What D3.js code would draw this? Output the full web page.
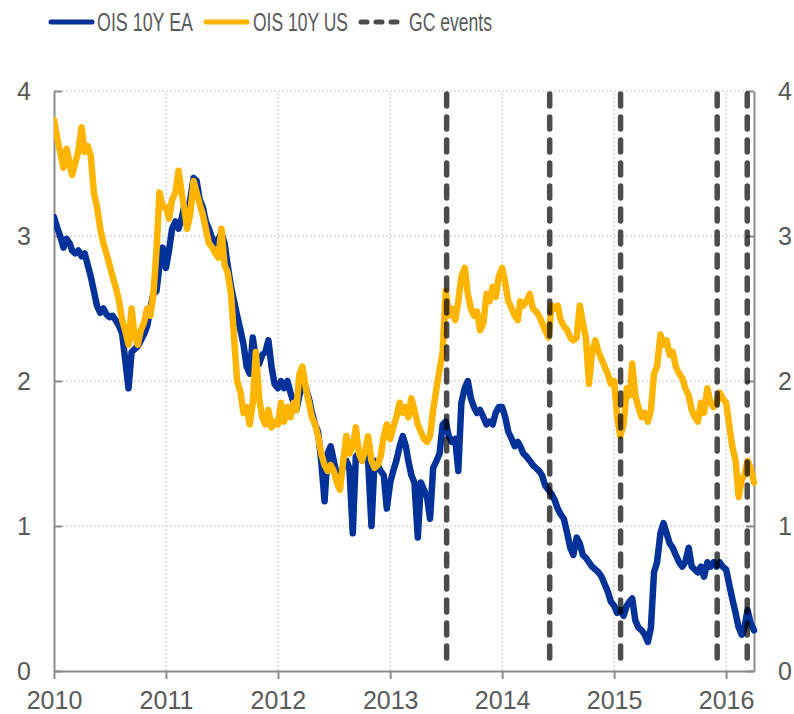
<!DOCTYPE html>
<html>
<head>
<meta charset="utf-8">
<script src="https://cdn.jsdelivr.net/npm/d3@7"></script>
<style>
    body { margin: 0; background: #fff; }
    svg { display: block; font-family: Arial, "Liberation Sans", sans-serif; }
</style>
</head>
<body>
<svg id="chart" width="794" height="714"></svg>
<script>
const width = 794;
const height = 714;

// readings are taken on the 1st, 11th and 21st of every month
const obsDays = [1, 11, 21];
const firstDay = "2010-01-01";
const lastDay = "2016-04-01";

// one row per year (2016 stops at 1 April)
const oisEA = [
    3.13, 3.06, 3.0, 2.92, 2.98, 2.95, 2.9, 2.88, 2.9, 2.86, 2.88, 2.8, 2.72, 2.62, 2.52, 2.47, 2.5, 2.46, 2.44, 2.45, 2.42, 2.38, 2.33, 2.15, 1.95, 2.2, 2.22, 2.24, 2.28, 2.32, 2.38, 2.5, 2.6, 2.62, 2.8, 2.92,
    2.78, 2.9, 3.05, 3.1, 3.05, 3.12, 3.2, 3.15, 3.25, 3.4, 3.38, 3.25, 3.2, 3.1, 3.05, 2.98, 2.95, 2.98, 3.02, 2.95, 2.8, 2.65, 2.55, 2.45, 2.35, 2.25, 2.1, 2.05, 2.3, 2.15, 2.12, 2.18, 2.2, 2.28, 2.1, 1.98,
    1.95, 2.0, 1.95, 2.0, 1.92, 1.85, 1.8, 1.9, 1.98, 1.95, 1.88, 1.78, 1.7, 1.65, 1.45, 1.17, 1.5, 1.55, 1.45, 1.35, 1.32, 1.42, 1.45, 1.4, 0.95, 1.48, 1.5, 1.45, 1.5, 1.45, 1.0, 1.45, 1.42, 1.38, 1.35, 1.12,
    1.3, 1.38, 1.45, 1.55, 1.62, 1.55, 1.45, 1.35, 1.3, 0.92, 1.3, 1.25, 1.2, 1.05, 1.4, 1.45, 1.5, 1.7, 1.72, 1.62, 1.58, 1.6, 1.38, 1.85, 1.95, 2.0, 1.88, 1.82, 1.78, 1.8, 1.75, 1.7, 1.72, 1.7, 1.78, 1.82,
    1.82, 1.75, 1.65, 1.6, 1.55, 1.58, 1.55, 1.5, 1.48, 1.45, 1.42, 1.4, 1.38, 1.35, 1.28, 1.25, 1.22, 1.18, 1.12, 1.08, 1.05, 0.95, 0.85, 0.8, 0.92, 0.88, 0.8, 0.78, 0.75, 0.72, 0.7, 0.68, 0.65, 0.6, 0.55, 0.48,
    0.45, 0.4, 0.42, 0.38, 0.45, 0.48, 0.5, 0.35, 0.3, 0.28, 0.25, 0.2, 0.3, 0.68, 0.75, 0.95, 1.02, 0.95, 0.88, 0.85, 0.8, 0.75, 0.72, 0.75, 0.85, 0.72, 0.7, 0.68, 0.72, 0.65, 0.75, 0.72, 0.75, 0.72, 0.75, 0.72,
    0.7, 0.6, 0.5, 0.4, 0.3, 0.25, 0.3, 0.42, 0.33, 0.28
];

const oisUS = [
    3.8, 3.68, 3.58, 3.47, 3.6, 3.5, 3.42, 3.5, 3.58, 3.75, 3.58, 3.62, 3.55, 3.3, 3.2, 3.05, 2.95, 2.88, 2.8, 2.72, 2.65, 2.55, 2.42, 2.35, 2.25, 2.5, 2.3, 2.25, 2.35, 2.4, 2.5, 2.45, 2.6, 2.9, 3.3, 3.2,
    3.2, 3.12, 3.25, 3.3, 3.45, 3.3, 3.2, 3.05, 3.15, 3.38, 3.3, 3.22, 3.15, 3.05, 2.95, 2.92, 2.88, 2.85, 3.05, 2.8, 2.75, 2.6, 2.3, 2.0, 1.92, 1.78, 1.82, 1.7, 1.85, 2.2, 1.88, 1.75, 1.7, 1.8, 1.68, 1.72,
    1.7, 1.85, 1.72, 1.82, 1.75, 1.85, 1.8, 2.05, 2.1, 1.95, 1.85, 1.75, 1.7, 1.62, 1.5, 1.42, 1.38, 1.42, 1.38, 1.3, 1.25, 1.45, 1.62, 1.5, 1.55, 1.68, 1.5, 1.45, 1.52, 1.62, 1.45, 1.4, 1.42, 1.48, 1.62, 1.7,
    1.6, 1.68, 1.75, 1.85, 1.78, 1.82, 1.75, 1.88, 1.8, 1.7, 1.65, 1.6, 1.58, 1.62, 1.8, 1.95, 2.08, 2.2, 2.62, 2.45, 2.5, 2.42, 2.55, 2.72, 2.78, 2.6, 2.5, 2.45, 2.48, 2.35, 2.4, 2.6, 2.55, 2.65, 2.58, 2.72,
    2.78, 2.68, 2.55, 2.5, 2.45, 2.42, 2.55, 2.52, 2.55, 2.6, 2.5, 2.48, 2.45, 2.4, 2.35, 2.3, 2.52, 2.5, 2.52, 2.42, 2.38, 2.35, 2.3, 2.28, 2.3, 2.52, 2.4, 2.3, 1.98, 2.2, 2.28, 2.2, 2.15, 2.1, 2.05, 1.98,
    2.0, 1.75, 1.62, 1.7, 1.95, 1.9, 2.12, 1.9, 1.82, 1.75, 1.78, 1.72, 1.8, 2.05, 2.1, 2.32, 2.25, 2.28, 2.18, 2.2, 2.1, 2.05, 2.02, 1.95, 1.9, 1.8, 1.75, 1.72, 1.85, 1.78, 1.95, 1.85, 1.82, 1.85, 1.92, 1.88,
    1.85, 1.7, 1.55, 1.45, 1.2, 1.32, 1.35, 1.45, 1.4, 1.3
];

// Governing Council meetings
const gcEvents = ["2013-07-04", "2014-06-05", "2015-01-22", "2015-12-03", "2016-03-10"];

const yearTicks = ["2010", "2011", "2012", "2013", "2014", "2015", "2016"];
const valueTicks = [0, 1, 2, 3, 4];
const legendLabels = ["OIS 10Y EA", "OIS 10Y US", "GC events"];

const blue = "#003299";
const yellow = "#ffb400";
const textColor = "#595959";
const axisColor = "#8c8c8c";

const parseDate = d3.timeParse("%Y-%m-%d");
const parseYear = d3.timeParse("%Y");

const dates = [];
d3.timeMonth.range(parseDate(firstDay), parseDate(lastDay)).forEach(m => {
    obsDays.forEach(day => dates.push(new Date(m.getFullYear(), m.getMonth(), day)));
});
dates.push(parseDate(lastDay));

const margin = { top: 91, right: 40, bottom: 43, left: 54 };

const x = d3.scaleTime()
    .domain([parseDate(firstDay), parseDate(lastDay)])
    .range([margin.left, width - margin.right]);

const y = d3.scaleLinear()
    .domain([0, 4])
    .range([height - margin.bottom, margin.top]);

const svg = d3.select("#chart");

// Grid
svg.append("g")
    .selectAll("line")
    .data(valueTicks.filter(v => v > 0))
    .enter()
    .append("line")
    .attr("x1", margin.left)
    .attr("x2", width - margin.right)
    .attr("y1", d => y(d))
    .attr("y2", d => y(d))
    .attr("stroke", "#c4c4c4")
    .attr("stroke-dasharray", "2,2");

svg.append("g")
    .selectAll("line")
    .data(yearTicks.slice(1))
    .enter()
    .append("line")
    .attr("x1", d => x(parseYear(d)))
    .attr("x2", d => x(parseYear(d)))
    .attr("y1", y(0))
    .attr("y2", y(4))
    .attr("stroke", "#c4c4c4")
    .attr("stroke-dasharray", "2,2");

// Axes
function styleAxis(g) {
    g.selectAll(".domain").attr("stroke", axisColor).attr("stroke-width", 2);
    g.selectAll(".tick line").attr("stroke", axisColor).attr("stroke-width", 2);
    g.selectAll(".tick text").attr("fill", textColor).attr("font-size", 25);
    g.attr("font-family", null);
}

svg.append("g")
    .attr("transform", `translate(${margin.left},0)`)
    .call(d3.axisLeft(y).tickValues(valueTicks).tickFormat(d3.format("d"))
        .tickSize(-8).tickSizeOuter(0).tickPadding(23))
    .call(styleAxis);

svg.append("g")
    .attr("transform", `translate(${width - margin.right},0)`)
    .call(d3.axisRight(y).tickValues(valueTicks).tickFormat(d3.format("d"))
        .tickSize(-8).tickSizeOuter(0).tickPadding(24))
    .call(styleAxis);

svg.append("g")
    .attr("transform", `translate(0,${height - margin.bottom})`)
    .call(d3.axisBottom(x).tickValues(yearTicks.map(parseYear)).tickFormat(d3.timeFormat("%Y"))
        .tickSize(8).tickSizeOuter(0).tickPadding(12))
    .call(styleAxis);

// Series
svg.append("clipPath")
    .attr("id", "plot-clip")
    .append("rect")
    .attr("x", margin.left)
    .attr("y", 0)
    .attr("width", width - margin.left - margin.right + 4)
    .attr("height", height);

const line = d3.line()
    .x((d, i) => x(dates[i]))
    .y(d => y(d));

[[oisEA, blue], [oisUS, yellow]].forEach(([values, color]) => {
    svg.append("path")
        .datum(values)
        .attr("d", line)
        .attr("clip-path", "url(#plot-clip)")
        .attr("fill", "none")
        .attr("stroke", color)
        .attr("stroke-width", 6.5)
        .attr("stroke-linejoin", "round")
        .attr("stroke-linecap", "round");
});

// GC event markers
svg.append("g")
    .selectAll("line")
    .data(gcEvents)
    .enter()
    .append("line")
    .attr("x1", d => x(parseDate(d)))
    .attr("x2", d => x(parseDate(d)))
    .attr("y1", y(4) + 3)
    .attr("y2", y(0) - 3)
    .attr("stroke", "#000")
    .attr("stroke-opacity", 0.7)
    .attr("stroke-width", 5.5)
    .attr("stroke-dasharray", "12,11")
    .attr("stroke-linecap", "round");

// Legend (the text is drawn condensed, as in the original)
const legendX = [50, 205, 360];
const legendTextX = [97, 253, 409];
const legendTextW = [96, 95, 83];
const legendColors = [blue, yellow, "#000"];

legendLabels.forEach((label, i) => {
    svg.append("line")
        .attr("x1", legendX[i] + 1)
        .attr("x2", legendX[i] + 42)
        .attr("y1", 22)
        .attr("y2", 22)
        .attr("stroke", legendColors[i])
        .attr("stroke-opacity", i === 2 ? 0.7 : 1)
        .attr("stroke-width", 5)
        .attr("stroke-linecap", "round")
        .attr("stroke-dasharray", i === 2 ? "6,9" : null);

    const text = svg.append("text")
        .attr("font-size", 25)
        .attr("fill", textColor)
        .text(label);
    const natural = text.node().getComputedTextLength();
    text.attr("transform", `translate(${legendTextX[i]},31) scale(${legendTextW[i] / natural},1)`);
});
</script>
</body>
</html>
